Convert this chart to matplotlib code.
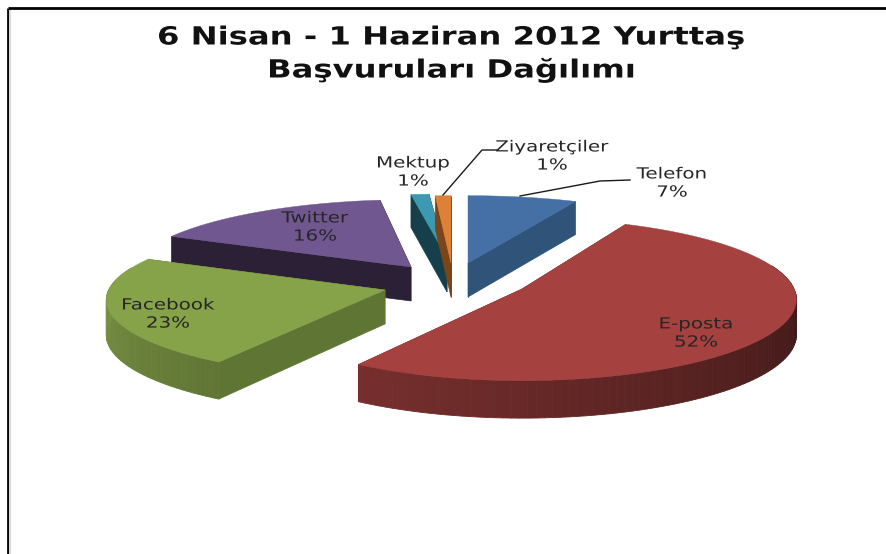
import numpy as np
import matplotlib
matplotlib.use("Agg")
import matplotlib.pyplot as plt
import matplotlib.patheffects as pe
from matplotlib.transforms import Affine2D

# ---- data ----
categories = ["Telefon", "E-posta", "Facebook", "Twitter", "Mektup", "Ziyaretçiler"]
values = [7, 52, 23, 16, 1, 1]
title = "6 Nisan - 1 Haziran 2012 Yurttaş\nBaşvuruları Dağılımı"

# ---- style ----
top_colors = ["#4470a6", "#a5413f", "#86a34a", "#71578f", "#3d98b1", "#dc8137"]
face_colors = ["#2f5379", "#6f2c2a", "#5e7534", "#2b2035", "#163f4c", "#7a451a"]
apex = [(468, 263), (522, 289), (385, 290), (411, 267), (447, 258), (451, 263)]
scale = [(1, 1), (0.965, 1.05), (0.98, 1), (0.99, 1), (1.15, 0.95), (1, 1)]
label_pos = [(672, 183), (696, 333), (168, 314), (315, 227), (413, 172), (552, 156)]
draw_order = [4, 5, 3, 0, 2, 1]
RX, RY, PERSP, DEPTH = 282, 76, 0.129, 35


class StretchX(pe.AbstractPathEffect):
    """Widen a text horizontally about a centre, as the stretched picture does."""

    def __init__(self, cx, k):
        super().__init__()
        self.cx, self.k = cx, k

    def draw_path(self, renderer, gc, tpath, affine, rgbFace=None):
        extra = Affine2D().translate(-self.cx, 0).scale(self.k, 1).translate(self.cx, 0)
        renderer.draw_path(gc, tpath, affine + extra, rgbFace)


def project(theta, cx, cy, sx, sy):
    u, v = np.sin(theta), np.cos(theta)
    s = 1 / (1 + PERSP * v)
    return cx + sx * RX * u * s, cy - sy * RY * v * s


def depth_at(theta):
    return DEPTH * np.sqrt(1 / (1 + PERSP * np.cos(theta)))


def shade(theta):
    return np.interp(np.degrees(theta), [90, 212, 290], [0.36, 0.72, 0.95])


fig = plt.figure(figsize=(8.87, 5.54), dpi=100, facecolor="white")
ax = fig.add_axes([0, 0, 1, 1])
ax.set_xlim(0, 887)
ax.set_ylim(554, 0)
ax.axis("off")

# frame of the pasted picture
ax.plot([8, 8], [8, 554], color="black", lw=2.0, solid_capstyle="butt")
ax.plot([8, 887], [8, 8], color="black", lw=2.0, solid_capstyle="butt")
ax.plot([10.5, 10.5], [10, 554], color="#d9d9d9", lw=1.5, solid_capstyle="butt")

edges = np.radians(np.concatenate([[0], np.cumsum(values)]) * 360 / np.sum(values))

for i in draw_order:
    a0, a1 = edges[i], edges[i + 1]
    cx, cy = apex[i]
    sx, sy = scale[i]
    z = 2 + draw_order.index(i)
    th = np.linspace(a0, a1, max(int(np.degrees(a1 - a0) / 1.5), 3))
    px, py = project(th, cx, cy, sx, sy)
    rgb = np.array(matplotlib.colors.to_rgb(top_colors[i]))
    dc = DEPTH * 0.97
    # radial faces
    for a in (a0, a1):
        ex, ey = project(a, cx, cy, sx, sy)
        d = depth_at(a)
        ax.fill([cx, ex, ex, cx], [cy, ey, ey + d, cy + dc],
                color=face_colors[i], lw=0.5, zorder=z)
    # outer rim, only the part that faces the viewer
    for t0, t1, x0, x1, y0, y1 in zip(th[:-1], th[1:], px[:-1], px[1:], py[:-1], py[1:]):
        tm = (t0 + t1) / 2
        if np.cos(tm) < 0.3:
            col = np.clip(rgb * shade(tm), 0, 1)
            ax.fill([x0, x1, x1, x0],
                    [y0, y1, y1 + depth_at(t1), y0 + depth_at(t0)],
                    color=col, lw=0.6, zorder=z)
    # top surface
    ax.fill(np.r_[cx, px], np.r_[cy, py], color=top_colors[i], lw=0.3, zorder=z)

# leader lines
ax.plot([443, 482, 497], [195, 150, 150], color="#1a1a1a", lw=1, zorder=20)
ax.plot([520, 600, 630], [196, 181, 180], color="#1a1a1a", lw=1, zorder=20)

# labels
for name, val, (lx, ly) in zip(categories, values, label_pos):
    t = ax.text(lx, ly, f"{name}\n{val}%", ha="center", va="center", fontsize=11,
                color="#262626", family="DejaVu Sans", linespacing=1.26, zorder=30)
    t.set_path_effects([StretchX(lx, 1.3)])

t = ax.text(452, 54, title, ha="center", va="center", fontsize=18, fontweight="bold",
            color="#111111", family="DejaVu Sans", linespacing=1.4, zorder=30)
t.set_path_effects([StretchX(452, 1.29)])

fig.savefig("out.png", dpi=100, facecolor="white")
